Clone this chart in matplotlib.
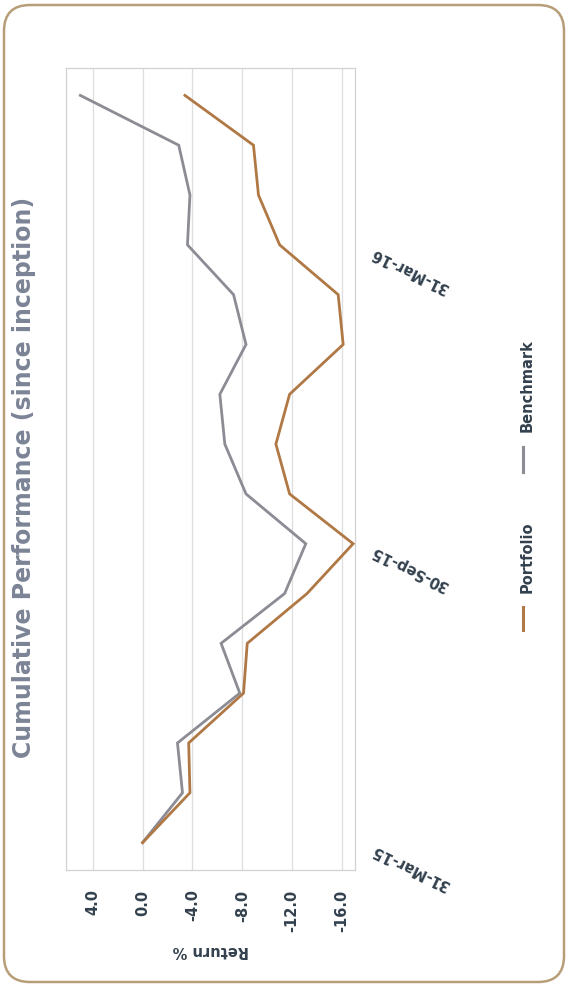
import matplotlib
matplotlib.use("Agg")
import matplotlib.pyplot as plt
from matplotlib.patches import FancyBboxPatch
from matplotlib.lines import Line2D

# ---------------- data ----------------
months = ["Mar-15", "Apr-15", "May-15", "Jun-15", "Jul-15", "Aug-15", "Sep-15",
          "Oct-15", "Nov-15", "Dec-15", "Jan-16", "Feb-16", "Mar-16",
          "Apr-16", "May-16", "Jun-16"]
portfolio = [0.0, -3.8, -3.7, -8.1, -8.4, -13.2, -16.9, -11.8, -10.7, -11.8,
             -16.1, -15.7, -11.0, -9.3, -8.9, -3.4]
benchmark = [0.0, -3.2, -2.8, -7.8, -6.3, -11.4, -13.1, -8.3, -6.6, -6.2,
             -8.3, -7.3, -3.6, -3.8, -2.9, 5.0]
series_names = ["Portfolio", "Benchmark"]
date_tick_pos = [0, 6, 12]
date_tick_labels = ["31-Mar-15", "30-Sep-15", "31-Mar-16"]
return_ticks = [4.0, 0.0, -4.0, -8.0, -12.0, -16.0]
return_tick_labels = ["4.0", "0.0", "-4.0", "-8.0", "-12.0", "-16.0"]
title = "Cumulative Performance (since inception)"
value_label = "Return %"

# ---------------- style ----------------
W, H = 568, 988
C_PORT = "#b07845"
C_BENCH = "#8b8c94"
C_TEXT = "#33414e"
C_TITLE = "#7b8496"
C_GRID = "#dedede"
C_BORDER = "#b89e78"
FONT = "DejaVu Sans"

fig = plt.figure(figsize=(W / 100, H / 100), dpi=100)
fig.patch.set_facecolor("white")

# background axes in pixel coordinates for the rounded frame
bg = fig.add_axes([0, 0, 1, 1], zorder=-1)
bg.set_xlim(0, W)
bg.set_ylim(H, 0)
bg.axis("off")
bg.add_patch(FancyBboxPatch((4, 5), W - 8, H - 11,
                            boxstyle="round,pad=0,rounding_size=26",
                            facecolor="white", edgecolor=C_BORDER, linewidth=1.8))

def px(x, y):
    return x / W, 1 - y / H

# main axes (chart is rotated: values horizontal, time vertical)
left, right, top, bottom = 66, 355, 68, 870
ax = fig.add_axes([left / W, 1 - bottom / H, (right - left) / W, (bottom - top) / H])
idx = list(range(len(months)))
ax.plot(benchmark, idx, color=C_BENCH, lw=2.0, solid_joinstyle="miter", zorder=3)
ax.plot(portfolio, idx, color=C_PORT, lw=2.0, solid_joinstyle="miter", zorder=4)

ax.set_xlim(6.15, -17.05)
ax.set_ylim(-0.55, 15.55)

ax.set_xticks(return_ticks)
ax.set_xticklabels(return_tick_labels, rotation=90, fontsize=10.5,
                   fontweight="bold", color=C_TEXT, family=FONT)
ax.tick_params(axis="x", length=0, pad=14)
ax.grid(axis="x", color=C_GRID, lw=0.9)
ax.set_axisbelow(True)

ax.yaxis.tick_right()
ax.set_yticks(date_tick_pos)
ax.set_yticklabels(date_tick_labels, fontsize=10.5, fontweight="bold",
                   color=C_TEXT, family=FONT)
ax.tick_params(axis="y", length=0, pad=15)
for lbl in ax.get_yticklabels():
    lbl.set_rotation(154)
    lbl.set_rotation_mode("anchor")
    lbl.set_ha("right")
    lbl.set_va("bottom")

for s in ax.spines.values():
    s.set_color("#d2d2d2")
    s.set_linewidth(0.9)

ax.set_xlabel(value_label, rotation=180, fontsize=10.5, fontweight="bold",
              color=C_TEXT, family=FONT, labelpad=8)

# title (rotated)
fig.text(*px(24, 477), title, rotation=90, ha="center", va="center",
         fontsize=17, fontweight="bold", color=C_TITLE, family=FONT)

# legend (rotated, drawn manually)
legend_items = [(series_names[0], C_PORT, 630, 607, 593),
                (series_names[1], C_BENCH, 472, 447, 432)]
for name, col, y0, y1, yt in legend_items:
    x0, fy0 = px(523, y0)
    _, fy1 = px(523, y1)
    fig.add_artist(Line2D([x0, x0], [fy0, fy1], color=col, lw=2.2,
                          transform=fig.transFigure))
    fig.text(*px(527, yt), name, rotation=90, ha="center", va="bottom",
             fontsize=10.5, fontweight="bold", color=C_TEXT, family=FONT)

fig.savefig("out.png", dpi=100)
